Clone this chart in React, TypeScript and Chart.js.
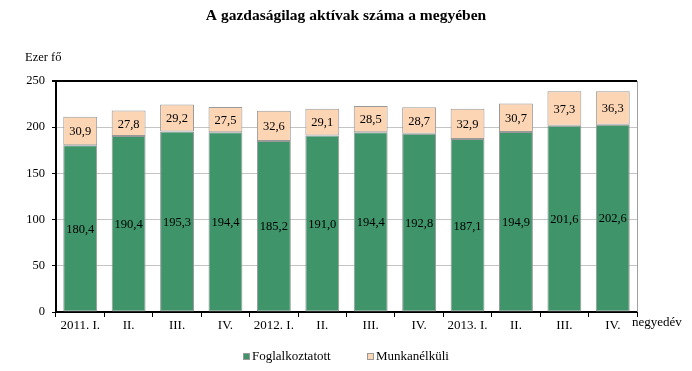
import React, { useEffect, useRef } from "react";
import { Chart, registerables } from "chart.js";

Chart.register(...registerables);

const categories = ["2011. I.", "II.", "III.", "IV.", "2012. I.", "II.", "III.", "IV.", "2013. I.", "II.", "III.", "IV."];
const employed = [180.4, 190.4, 195.3, 194.4, 185.2, 191.0, 194.4, 192.8, 187.1, 194.9, 201.6, 202.6];
const unemployed = [30.9, 27.8, 29.2, 27.5, 32.6, 29.1, 28.5, 28.7, 32.9, 30.7, 37.3, 36.3];
const seriesNames = ["Foglalkoztatott", "Munkanélküli"];
const yTicks = [0, 50, 100, 150, 200, 250];

const GREEN = "rgb(63,148,106)";
const PEACH = "rgb(252,213,181)";
const FONT = "'Liberation Serif', 'DejaVu Serif', serif";

const fmt = (v: number) => v.toFixed(1).replace(".", ",");

const decorPlugin = {
  id: "decor",
  afterDatasetsDraw(chart: any) {
    const { ctx, chartArea } = chart;
    ctx.save();
    ctx.fillStyle = "#000";
    ctx.font = `12.5px ${FONT}`;
    ctx.textAlign = "center";
    ctx.textBaseline = "middle";
    chart.data.datasets.forEach((ds: any, di: number) => {
      const meta = chart.getDatasetMeta(di);
      meta.data.forEach((bar: any, i: number) => {
        const top = Math.min(bar.y, bar.base);
        const bot = Math.max(bar.y, bar.base);
        ctx.fillText(fmt(ds.data[i]), bar.x, (top + bot) / 2 + 1);
      });
    });
    ctx.strokeStyle = "#a0a0a0";
    ctx.lineWidth = 1;
    ctx.beginPath();
    ctx.moveTo(chartArea.right + 0.5, chartArea.top);
    ctx.lineTo(chartArea.right + 0.5, chartArea.bottom);
    ctx.stroke();
    ctx.restore();
  },
  afterDraw(chart: any) {
    const { ctx } = chart;
    ctx.save();
    ctx.fillStyle = "#000";
    ctx.textBaseline = "middle";
    ctx.font = `bold 15.5px ${FONT}`;
    ctx.textAlign = "center";
    ctx.fillText("A gazdaságilag aktívak száma a megyében", 346, 16);
    ctx.font = `12.5px ${FONT}`;
    ctx.textAlign = "left";
    ctx.fillText("Ezer fő", 25, 58);
    ctx.font = `13px ${FONT}`;
    ctx.fillText("negyedév", 632, 323);
    const items = [
      { x: 243, color: GREEN, label: seriesNames[0] },
      { x: 367, color: PEACH, label: seriesNames[1] },
    ];
    const ly = 357;
    ctx.font = `13px ${FONT}`;
    items.forEach((it) => {
      ctx.fillStyle = it.color;
      ctx.fillRect(it.x, ly - 4, 7, 7);
      ctx.strokeStyle = "#999";
      ctx.lineWidth = 1;
      ctx.strokeRect(it.x + 0.5, ly - 3.5, 6, 6);
      ctx.fillStyle = "#000";
      ctx.fillText(it.label, it.x + 9, ly);
    });
    ctx.restore();
  },
};

export default function App() {
  const ref = useRef<HTMLCanvasElement | null>(null);
  useEffect(() => {
    document.body.style.margin = "0";
    const c = ref.current;
    if (!c) return;
    const chart = new Chart(c, {
      type: "bar",
      data: {
        labels: categories,
        datasets: [
          {
            label: seriesNames[0],
            data: employed,
            backgroundColor: GREEN,
            borderColor: "#999",
            borderWidth: 1,
            borderSkipped: false,
            barPercentage: 0.7,
            categoryPercentage: 1,
          },
          {
            label: seriesNames[1],
            data: unemployed,
            backgroundColor: PEACH,
            borderColor: "#999",
            borderWidth: 1,
            borderSkipped: false,
            barPercentage: 0.7,
            categoryPercentage: 1,
          },
        ],
      },
      options: {
        animation: false,
        responsive: false,
        layout: { padding: { top: 81, right: 55, left: 0, bottom: 29 } },
        plugins: {
          legend: { display: false },
          title: { display: false },
          tooltip: { enabled: false },
        },
        scales: {
          x: {
            stacked: true,
            offset: true,
            grid: {
              offset: true,
              drawOnChartArea: false,
              drawTicks: true,
              tickLength: 5,
              color: "#000",
            },
            border: { color: "#000", width: 2 },
            ticks: {
              color: "#000",
              font: { family: FONT, size: 13 },
              padding: 1,
              maxRotation: 0,
              autoSkip: false,
            },
            afterFit: (s: any) => {
              s.height = 30;
            },
          },
          y: {
            stacked: true,
            min: 0,
            max: 250,
            afterBuildTicks: (s: any) => {
              s.ticks = yTicks.map((v) => ({ value: v }));
            },
            grid: {
              color: (ctx: any) => (ctx.tick && ctx.tick.value === 250 ? "#000" : "#c4c4c4"),
              lineWidth: (ctx: any) => (ctx.tick && ctx.tick.value === 250 ? 2 : 1),
              tickColor: "#000",
              tickLength: 4,
            },
            border: { color: "#000", width: 2 },
            ticks: {
              color: "#000",
              font: { family: FONT, size: 12.5 },
              padding: 7,
            },
            afterFit: (s: any) => {
              s.width = 56;
            },
          },
        },
      },
      plugins: [decorPlugin],
    });
    return () => chart.destroy();
  }, []);
  return (
    <div style={{ width: 692, height: 371 }}>
      <canvas ref={ref} width={692} height={371} style={{ display: "block" }} />
    </div>
  );
}
